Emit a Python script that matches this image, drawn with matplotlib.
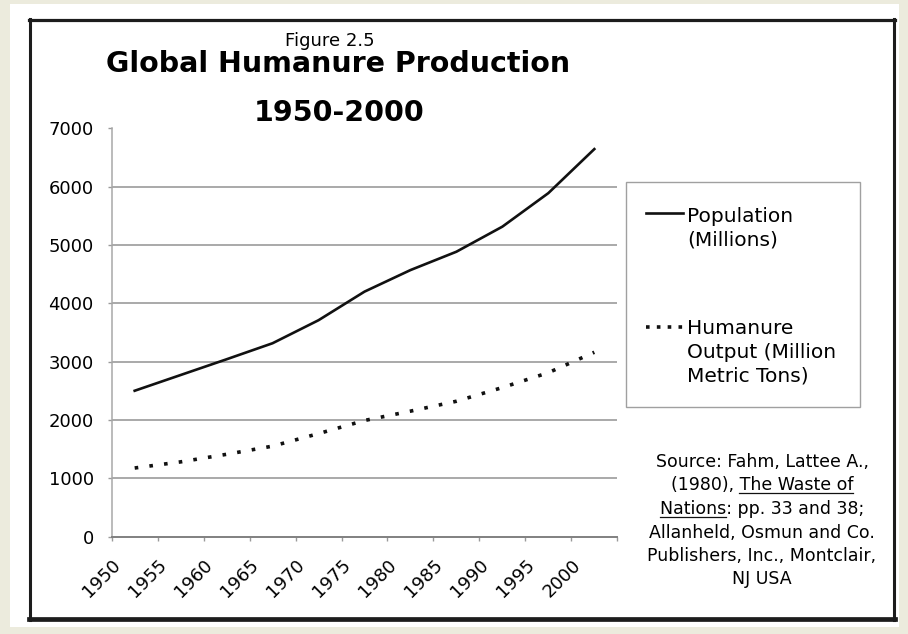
import numpy as np
import matplotlib.pyplot as plt
from matplotlib.lines import Line2D
from matplotlib.patches import Rectangle
from matplotlib.transforms import ScaledTranslation

# data (values at each 5-year category)
years = ["1950", "1955", "1960", "1965", "1970", "1975",
         "1980", "1985", "1990", "1995", "2000"]
population = [2500, 2770, 3040, 3315, 3710, 4200, 4570, 4885, 5315, 5890, 6645]
humanure = [1175, 1280, 1410, 1550, 1765, 1990, 2150, 2320, 2555, 2810, 3160]
y_ticks = [0, 1000, 2000, 3000, 4000, 5000, 6000, 7000]

legend_population = ["Population", "(Millions)"]
legend_humanure = ["Humanure", "Output (Million", "Metric Tons)"]
source_lines = [
    ("Source: Fahm, Lattee A.,", None),
    ("(1980), The Waste of", "The Waste of"),
    ("Nations: pp. 33 and 38;", "Nations"),
    ("Allanheld, Osmun and Co.", None),
    ("Publishers, Inc., Montclair,", None),
    ("NJ USA", None),
]

W, H = 908, 634


def fx(px):
    return px / W


def fy(py):
    return 1 - py / H


fig = plt.figure(figsize=(W / 100, H / 100), dpi=100, facecolor="#ecebdd")
tf = fig.transFigure

# white page and black frame
fig.patches.append(Rectangle((fx(10), fy(627)), fx(899) - fx(10), fy(4) - fy(627),
                             transform=tf, facecolor="white", edgecolor="none", zorder=-2))
ink = "#1c1c1c"
fig.add_artist(Line2D([fx(29), fx(895)], [fy(20), fy(20)], transform=tf, color=ink, lw=2.3))
fig.add_artist(Line2D([fx(29), fx(895)], [fy(619), fy(619)], transform=tf, color=ink, lw=3.4))
fig.add_artist(Line2D([fx(30), fx(30)], [fy(19), fy(620)], transform=tf, color=ink, lw=2.2))
fig.add_artist(Line2D([fx(894), fx(894)], [fy(19), fy(620)], transform=tf, color=ink, lw=2.2))

ax = fig.add_axes([fx(111.7), fy(536.5), fx(617.3) - fx(111.7), fy(128.4) - fy(536.5)])
ax.set_facecolor("none")
x = np.arange(len(years))

ax.hlines(y_ticks[1:-1], -0.5, len(years) - 0.5, color="#a2a2a2", lw=1.3, zorder=1)
ax.plot(x, population, color="#111111", lw=1.9, zorder=3)
ax.plot(x, humanure, color="#111111", lw=2.6, linestyle=(0, (1, 3.1)), zorder=3)

ax.set_xlim(-0.5, len(years) - 0.5)
ax.set_ylim(0, 7000)
for s in ["top", "right"]:
    ax.spines[s].set_visible(False)
ax.spines["left"].set_color("#a8a8a8")
ax.spines["left"].set_linewidth(1.1)
ax.spines["bottom"].set_color("#808080")
ax.spines["bottom"].set_linewidth(1.4)

ax.set_yticks(y_ticks)
ax.tick_params(axis="y", length=3, width=1, color="#9a9a9a", pad=10, labelsize=13)
ax.set_xticks(x, years)
ax.set_xticks(np.arange(-0.5, len(years)), minor=True)
ax.tick_params(axis="x", which="major", length=0, pad=18.7, labelsize=13)
ax.tick_params(axis="x", which="minor", length=3, width=1, color="#9a9a9a")
shift = ScaledTranslation(-0.165, 0, fig.dpi_scale_trans)
for lbl in ax.get_xticklabels():
    lbl.set_rotation(45)
    lbl.set_rotation_mode("anchor")
    lbl.set_ha("right")
    lbl.set_va("center")
    lbl.set_transform(lbl.get_transform() + shift)

# titles
fig.text(fx(330), fy(46), "Figure 2.5", ha="center", va="baseline", fontsize=13)
fig.text(fx(338), fy(72), "Global Humanure Production", ha="center", va="baseline",
         fontsize=20.5, weight="bold")
fig.text(fx(339), fy(121), "1950-2000", ha="center", va="baseline",
         fontsize=20.5, weight="bold")

# legend box
fig.patches.append(Rectangle((fx(626), fy(407)), fx(860) - fx(626), fy(182) - fy(407),
                             transform=tf, facecolor="white", edgecolor="#a0a0a0", lw=1))
fig.add_artist(Line2D([fx(646), fx(683)], [fy(212.5)] * 2, transform=tf,
                      color="#111111", lw=1.9))
fig.add_artist(Line2D([fx(646), fx(684)], [fy(327)] * 2, transform=tf,
                      color="#111111", lw=2.6, linestyle=(0, (1, 2))))
for i, t in enumerate(legend_population):
    fig.text(fx(687), fy(221.7 + 23.4 * i), t, va="baseline", fontsize=14.5)
for i, t in enumerate(legend_humanure):
    fig.text(fx(687), fy(334.3 + 23.4 * i), t, va="baseline", fontsize=14.5)

# source note, with underlined title
fig.canvas.draw()
renderer = fig.canvas.get_renderer()
for i, (line, under) in enumerate(source_lines):
    base = 467 + 23.5 * i
    t = fig.text(fx(762), fy(base), line, ha="center", va="baseline", fontsize=12.5)
    if under:
        bb = t.get_window_extent(renderer)
        tmp = fig.text(0, 0, under, fontsize=12.5)
        wu = tmp.get_window_extent(renderer).width
        tmp.remove()
        if line.startswith(under):
            x0, x1 = bb.x0, bb.x0 + wu
        else:
            x0, x1 = bb.x1 - wu, bb.x1
        fig.add_artist(Line2D([x0 / W, x1 / W], [fy(base + 2.5)] * 2, transform=tf,
                              color="#111111", lw=0.9))

fig.savefig("out.png", dpi=100, facecolor=fig.get_facecolor())
